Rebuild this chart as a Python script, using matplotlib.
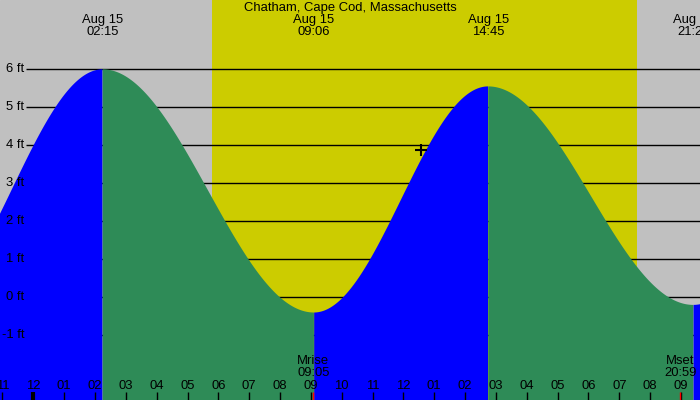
import numpy as np
import matplotlib
matplotlib.use("Agg")
import matplotlib.pyplot as plt
import matplotlib.transforms as mtransforms

plt.rcParams['font.family'] = ['Liberation Sans', 'DejaVu Sans']

# ---- data ----
title = "Chatham, Cape Cod, Massachusetts"
# tide extremes: hours from midnight Aug 15, heights in ft
tide_times = [-3.63, 2.25, 9.10, 14.75, 21.40, 27.60]
tide_heights = [-0.30, 6.00, -0.40, 5.55, -0.20, 5.80]
tide_labels = ["", "Aug 15\n02:15", "Aug 15\n09:06", "Aug 15\n14:45", "Aug 15\n21:24", ""]
sunrise, sunset = 5.80, 19.57
moon_events = [9.08, 20.98]
moon_labels = ["Mrise\n09:05", "Mset\n20:59"]
now_time, now_height = 12.57, 3.87
y_levels = [-1, 0, 1, 2, 3, 4, 5, 6]
y_level_labels = ["-1 ft", "0 ft", "1 ft", "2 ft", "3 ft", "4 ft", "5 ft", "6 ft"]
hours = list(range(-1, 22))
hour_labels = ["%02d" % ((h % 12) or 12) for h in hours]

# ---- layout helpers (pixel geometry of the 700x400 canvas) ----
W, H = 700, 400
x0_px, px_per_h = 33.3, 30.84
y0_px, px_per_ft = 297.3, 38.0
xmin, xmax = (0 - x0_px) / px_per_h, (W - x0_px) / px_per_h
ymax, ymin = y0_px / px_per_ft, (y0_px - H) / px_per_ft

def px2x(px):
    return (px - x0_px) / px_per_h

def px2y(py):
    return (y0_px - py) / px_per_ft

GRAY = "#C0C0C0"
YELLOW = "#CCCC00"
BLUE = "#0000FF"
GREEN = "#2E8B57"
FS = 9.4

fig = plt.figure(figsize=(7, 4), dpi=100)
ax = fig.add_axes([0, 0, 1, 1])
ax.set_xlim(xmin, xmax)
ax.set_ylim(ymin, ymax)
ax.axis("off")
ax.set_facecolor(GRAY)
ax.add_patch(plt.Rectangle((xmin, ymin), xmax - xmin, ymax - ymin, color=GRAY, zorder=0))
ax.axvspan(sunrise, sunset, color=YELLOW, zorder=0.5, lw=0)

# gridlines
ax.hlines(y_levels, px2x(26), xmax, color="black", lw=1, zorder=1)

# tide curve from extremes (cosine between successive highs/lows)
t = np.linspace(xmin, xmax, 3000)
tt = np.array(tide_times)
hh = np.array(tide_heights)
idx = np.clip(np.searchsorted(tt, t) - 1, 0, len(tt) - 2)
frac = (t - tt[idx]) / (tt[idx + 1] - tt[idx])
h = hh[idx] + (hh[idx + 1] - hh[idx]) * (1 - np.cos(np.pi * frac)) / 2
rising = hh[idx + 1] > hh[idx]
ax.fill_between(t, ymin, h, where=rising, color=BLUE, lw=0, zorder=2, interpolate=False)
ax.fill_between(t, ymin, h, where=~rising, color=GREEN, lw=0, zorder=2, interpolate=False)

# current-time marker
ax.plot([now_time], [now_height], marker="+", color="black", ms=9, mew=1.5, zorder=5)

# y labels
trans_l = mtransforms.blended_transform_factory(ax.transAxes, ax.transData)
for v, lab in zip(y_levels, y_level_labels):
    ax.text(24 / W, v, lab, transform=trans_l, ha="right", va="center", fontsize=FS, zorder=6)

# title
ax.text(0.5, 1 - 7.5 / H, title, transform=ax.transAxes, ha="center", va="center", fontsize=FS)

# extreme labels
for tm, lab in zip(tide_times, tide_labels):
    if not lab:
        continue
    l1, l2 = lab.split("\n")
    ax.text(tm, px2y(20), l1, ha="center", va="center", fontsize=FS, clip_on=False)
    ax.text(tm, px2y(31.5), l2, ha="center", va="center", fontsize=FS, clip_on=False)

# moon labels
for tm, lab in zip(moon_events, moon_labels):
    l1, l2 = lab.split("\n")
    ax.text(tm, px2y(361.5), l1, ha="center", va="center", fontsize=FS, zorder=6)
    ax.text(tm, px2y(373.3), l2, ha="center", va="center", fontsize=FS, zorder=6)

# hour ticks and labels
ax.vlines(hours, px2y(400), px2y(392), color="black", lw=1, zorder=6)
ax.vlines([0], px2y(400), px2y(391.5), color="black", lw=3, zorder=6)
ax.vlines(moon_events, px2y(400), px2y(392), color="red", lw=1, zorder=6)
for hr, lab in zip(hours, hour_labels):
    ax.text(hr, px2y(386), lab, ha="center", va="center", fontsize=FS, zorder=6)

fig.savefig("out.png", dpi=100)
